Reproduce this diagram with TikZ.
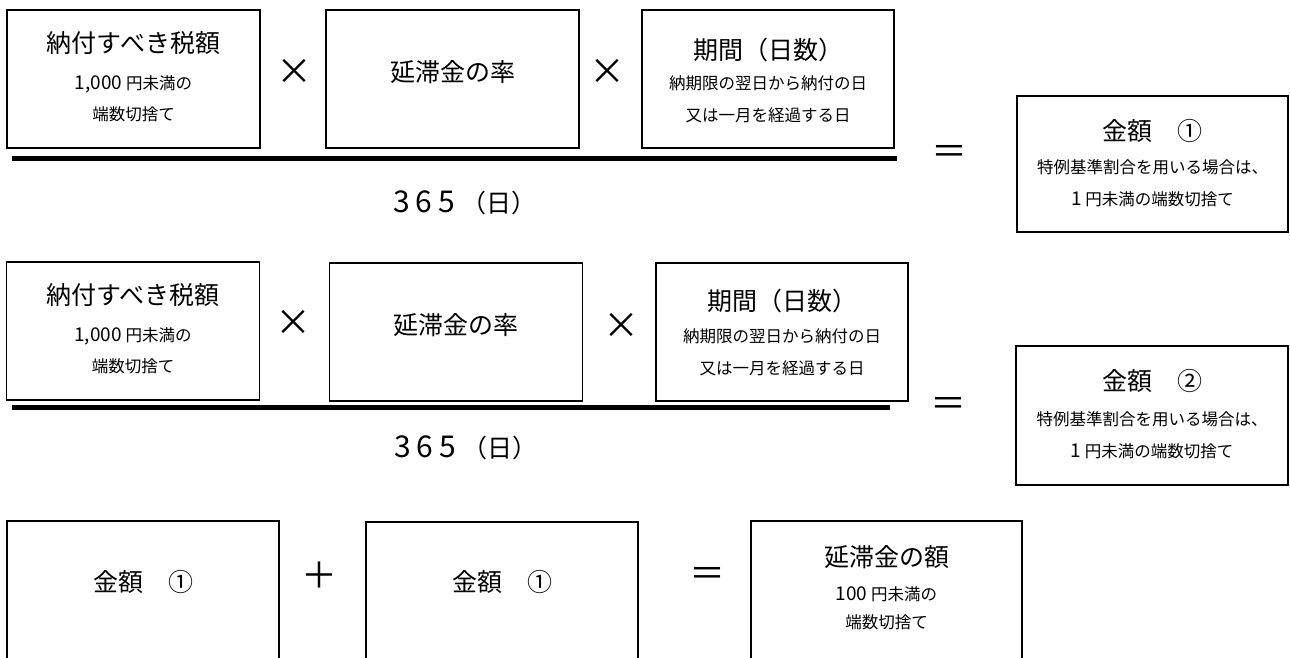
\documentclass[tikz,border=0pt]{standalone}
\usepackage{fontspec}
\setmainfont{Noto Sans CJK JP}
\usetikzlibrary{calc}
\newcommand{\dg}[1]{{\fontsize{19}{22}\selectfont #1}}
\newcommand{\yr}{{\fontsize{30}{34}\selectfont 3\kern6pt 6\kern6pt 5}\kern7pt（日）}
\begin{document}
\begin{tikzpicture}[x=1pt,y=-1pt,
  box/.style={draw, line width=1.3pt, rectangle, inner sep=0pt, minimum height=138pt, minimum width=253pt},
  big/.style={font=\fontsize{25}{30}\selectfont, anchor=base, inner sep=0pt},
  small/.style={font=\fontsize{16.5}{20}\selectfont, anchor=base, inner sep=0pt},
  op/.style={font=\fontsize{36}{40}\selectfont, inner sep=0pt},
  bar/.style={line width=5pt}]
\useasboundingbox (0,0) rectangle (1290,658);
\clip (0,0) rectangle (1290,658);
% ---------- row 1 ----------
\node[box] (a1) at (133.5,79) {};
\node[big] (a1t) at ($(a1.north)+(0,43)$) {納付すべき税額};
\node[small] (a1s) at ($(a1.north)+(0,80)$) {\dg{1,000} 円未満の};
\node[small] (a1u) at ($(a1.north)+(0,111)$) {端数切捨て};
\node[op] (x11) at (294,72) {×};
\node[box] (b1) at (452.5,79) {};
\node[big] (b1t) at ($(b1.north)+(0,72)$) {延滞金の率};
\node[op] (x12) at (607,72) {×};
\node[box, minimum width=252pt] (c1) at (768,79) {};
\node[big] (c1t) at ($(c1.north)+(0,50)$) {期間（日数）};
\node[small] (c1s) at ($(c1.north)+(0,80)$) {納期限の翌日から納付の日};
\node[small] (c1u) at ($(c1.north)+(0,112)$) {又は一月を経過する日};
\coordinate (f1l) at (12,158);
\coordinate (f1r) at (897,158);
\draw[bar] (f1l) -- (f1r);
\node[big] (d1) at (465,212) {\yr};
\node[op] (e1) at (949,155) {＝};
\node[box, minimum width=271pt, minimum height=136pt] (r1) at (1152.5,164) {};
\node[big] (r1t) at ($(r1.north)+(0,45)$) {金額　①};
\node[small] (r1s) at ($(r1.north)+(0,78)$) {特例基準割合を用いる場合は、};
\node[small] (r1u) at ($(r1.north)+(0,110)$) {\dg{1} 円未満の端数切捨て};
% ---------- row 2 ----------
\node[box] (a2) at (133,331) {};
\node[big] (a2t) at ($(a2.north)+(0,43)$) {納付すべき税額};
\node[small] (a2s) at ($(a2.north)+(0,80)$) {\dg{1,000} 円未満の};
\node[small] (a2u) at ($(a2.north)+(0,111)$) {端数切捨て};
\node[op] (x21) at (293,323) {×};
\node[box] (b2) at (456,332) {};
\node[big] (b2t) at ($(b2.north)+(0,72)$) {延滞金の率};
\node[op] (x22) at (621,326) {×};
\node[box, minimum width=252pt] (c2) at (782,332) {};
\node[big] (c2t) at ($(c2.north)+(0,48)$) {期間（日数）};
\node[small] (c2s) at ($(c2.north)+(0,80)$) {納期限の翌日から納付の日};
\node[small] (c2u) at ($(c2.north)+(0,112)$) {又は一月を経過する日};
\coordinate (f2l) at (12,407);
\coordinate (f2r) at (890,407);
\draw[bar] (f2l) -- (f2r);
\node[big] (d2) at (466,457) {\yr};
\node[op] (e2) at (948,407) {＝};
\node[box, minimum width=272pt, minimum height=139pt] (r2) at (1152,415.5) {};
\node[big] (r2t) at ($(r2.north)+(0,45)$) {金額　②};
\node[small] (r2s) at ($(r2.north)+(0,80)$) {特例基準割合を用いる場合は、};
\node[small] (r2u) at ($(r2.north)+(0,112)$) {\dg{1} 円未満の端数切捨て};
% ---------- row 3 ----------
\node[box, minimum width=272pt, minimum height=160pt] (s1) at (143,601) {};
\node[big] (s1t) at ($(s1.north)+(0,71)$) {金額　①};
\node[op] (p3) at (319,575) {＋};
\node[box, minimum width=272pt, minimum height=160pt] (s2) at (502,602) {};
\node[big] (s2t) at ($(s2.north)+(0,70)$) {金額　①};
\node[op] (e3) at (707,577) {＝};
\node[box, minimum width=271pt, minimum height=160pt] (s3) at (886.5,601) {};
\node[big] (s3t) at ($(s3.north)+(0,46)$) {延滞金の額};
\node[small] (s3s) at ($(s3.north)+(0,80)$) {\dg{100} 円未満の};
\node[small] (s3u) at ($(s3.north)+(0,108)$) {端数切捨て};
\end{tikzpicture}
\end{document}
